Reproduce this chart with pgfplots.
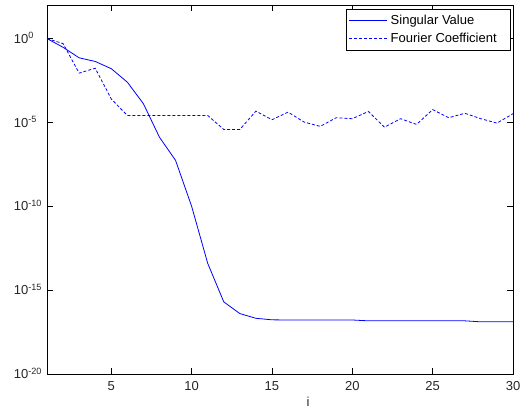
\documentclass[border=0pt]{standalone}
\usepackage{fontspec}
\setmainfont{Liberation Sans}
\usepackage{pgfplots}
\pgfplotsset{compat=1.18}

\begin{document}
\begin{tikzpicture}
\begin{axis}[
    scale only axis,
    width=466pt, height=369pt,
    ymode=log,
    xmin=1, xmax=30,
    ymin=1e-20, ymax=1e2,
    xtick={5,10,15,20,25,30},
    ytick={1e-20,1e-15,1e-10,1e-5,1e0},
    yticklabels={10\textsuperscript{-20},10\textsuperscript{-15},10\textsuperscript{-10},10\textsuperscript{-5},10\textsuperscript{0}},
    minor tick num=0,
    minor ytick={},
    tick align=inside,
    tick pos=both,
    major tick length=6pt,
    axis line style={line width=0.7pt},
    tick style={line width=0.6pt, black},
    /pgf/number format/assume math mode=true,
    ticklabel style={font=\fontsize{13}{15}\selectfont, text=black!85},
    xticklabel style={yshift=-4pt},
    yticklabel style={text width=30pt, align=left, inner xsep=0pt,
        anchor=base east, xshift=-3pt, yshift=-4.7pt},
    xlabel={i},
    xlabel style={at={(ticklabel cs:0.56)}, font=\fontsize{13}{15}\selectfont,
        text=black!85, yshift=1pt},
    legend style={at={(1,1)}, anchor=north east, xshift=-2pt, yshift=-4pt,
        font=\fontsize{13}{15}\selectfont, draw=black, line width=0.6pt,
        nodes={inner xsep=3pt, inner ysep=3.5pt}, inner xsep=3pt, inner ysep=2.5pt},
    legend cell align=left,
    legend image code/.code={\draw[#1, draw=blue] (0pt,0pt) -- (21pt,0pt);
        \path (0pt,0pt) -- (38pt,0pt);},
]
\addplot[blue, line width=0.8pt] coordinates {
(1,1e0) (2,3.0e-1) (3,7.1e-2) (4,4.3e-2) (5,1.6e-2) (6,2.5e-3)
(7,1.3e-4) (8,1.3e-6) (9,5.5e-8) (10,1.0e-10) (11,4.0e-14)
(12,2.0e-16) (13,4.0e-17) (14,2.1e-17) (15,1.7e-17) (16,1.66e-17)
(17,1.66e-17) (18,1.66e-17) (19,1.66e-17) (20,1.66e-17) (21,1.48e-17)
(22,1.48e-17) (23,1.48e-17) (24,1.48e-17) (25,1.48e-17) (26,1.48e-17)
(27,1.48e-17) (28,1.29e-17) (29,1.29e-17) (30,1.29e-17)
};
\addlegendentry{Singular Value}
\addplot[blue, line width=0.8pt, dash pattern=on 3pt off 2pt] coordinates {
(1,1e0) (2,5.0e-1) (3,8.7e-3) (4,1.7e-2) (5,2.5e-4) (6,2.6e-5)
(7,2.6e-5) (8,2.6e-5) (9,2.6e-5) (10,2.6e-5) (11,2.6e-5)
(12,3.8e-6) (13,3.8e-6) (14,4.7e-5) (15,1.45e-5) (16,4.1e-5)
(17,1.05e-5) (18,5.8e-6) (19,1.9e-5) (20,1.66e-5) (21,4.5e-5)
(22,5.2e-6) (23,1.66e-5) (24,7.6e-6) (25,5.8e-5) (26,1.9e-5)
(27,3.5e-5) (28,1.66e-5) (29,9.1e-6) (30,3.3e-5)
};
\addlegendentry{Fourier Coefficient\kern8pt}
\coordinate (ll) at (rel axis cs:0,0);
\coordinate (ur) at (rel axis cs:1,1);
\end{axis}
\path ([shift={(-47pt,-30pt)}]ll) rectangle ([shift={(11pt,5pt)}]ur);
\end{tikzpicture}
\end{document}
